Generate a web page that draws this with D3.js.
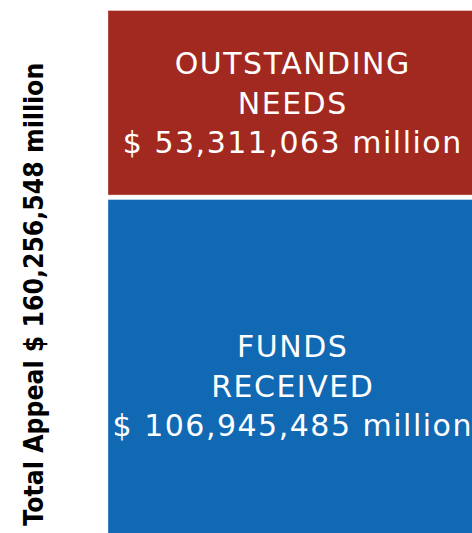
<!DOCTYPE html>
<html>
<head>
<meta charset="utf-8">
<script src="https://cdn.jsdelivr.net/npm/d3@7"></script>
<style>
  html, body { margin: 0; padding: 0; background: #ffffff; overflow: hidden; }
  svg { display: block; }
</style>
</head>
<body>
<svg id="chart" width="472" height="533"></svg>
<script>
// ---- data ----
const categories = ["FUNDS RECEIVED", "OUTSTANDING NEEDS"];
const labelLines = [["FUNDS", "RECEIVED"], ["OUTSTANDING", "NEEDS"]];
const values = [106945485, 53311063];           // $ million
const colors = ["#1169B4", "#A22920"];
const totalLabel = "Total Appeal $ 160,256,548 million";

// ---- layout ----
const W = 472, H = 533;
const svg = d3.select("#chart");
const total = d3.sum(values);
const fmt = d3.format(",");

const x = d3.scaleBand().domain(["appeal"]).range([108, 476]).padding(0);
const y = d3.scaleLinear().domain([0, total]).range([572, 10.5]);

let acc = 0;
const segs = values.map((v, i) => {
  const s = { cat: categories[i], lines: labelLines[i], v, y0: acc, y1: acc + v, color: colors[i] };
  acc += v;
  return s;
});

const gap = 2.25;
const g = svg.append("g");
const seg = g.selectAll("g.seg").data(segs).enter().append("g").attr("class", "seg");

seg.append("rect")
  .attr("x", x("appeal"))
  .attr("width", x.bandwidth())
  .attr("y", d => y(d.y1) + (d.y1 < total ? gap : 0))
  .attr("height", d => (y(d.y0) - (d.y0 > 0 ? gap : 0)) - (y(d.y1) + (d.y1 < total ? gap : 0)))
  .attr("fill", d => d.color)
  .attr("stroke", "#ffffff")
  .attr("stroke-opacity", 0.35)
  .attr("stroke-width", 1);

const lineH = 39.5;
seg.each(function(d) {
  const top = y(d.y1) + (d.y1 < total ? gap : 0);
  const bot = y(d.y0) - (d.y0 > 0 ? gap : 0);
  const cy = (top + bot) / 2;
  const lines = d.lines.concat(["$ " + fmt(d.v) + " million"]);
  const t = d3.select(this).append("text")
    .attr("text-anchor", "middle")
    .attr("fill", "#ffffff")
    .style("font-family", "'DejaVu Sans', Verdana, sans-serif")
    .style("font-size", "30px")
    .style("letter-spacing", "1.5px");
  lines.forEach((ln, i) => {
    t.append("tspan")
      .attr("x", x("appeal") + x.bandwidth() / 2 + 0.75)
      .attr("y", cy + 11 + (i - (lines.length - 1) / 2) * lineH)
      .text(ln);
  });
});

// rotated total label
svg.append("text")
  .attr("transform", `translate(43, ${(y(0) + y(total)) / 2 + 3}) rotate(-90)`)
  .attr("text-anchor", "middle")
  .attr("fill", "#000000")
  .attr("textLength", 463)
  .attr("lengthAdjust", "spacingAndGlyphs")
  .style("font-family", "'DejaVu Sans', Verdana, sans-serif")
  .style("font-weight", "bold")
  .style("font-size", "26px")
  .text(totalLabel);
</script>
</body>
</html>
